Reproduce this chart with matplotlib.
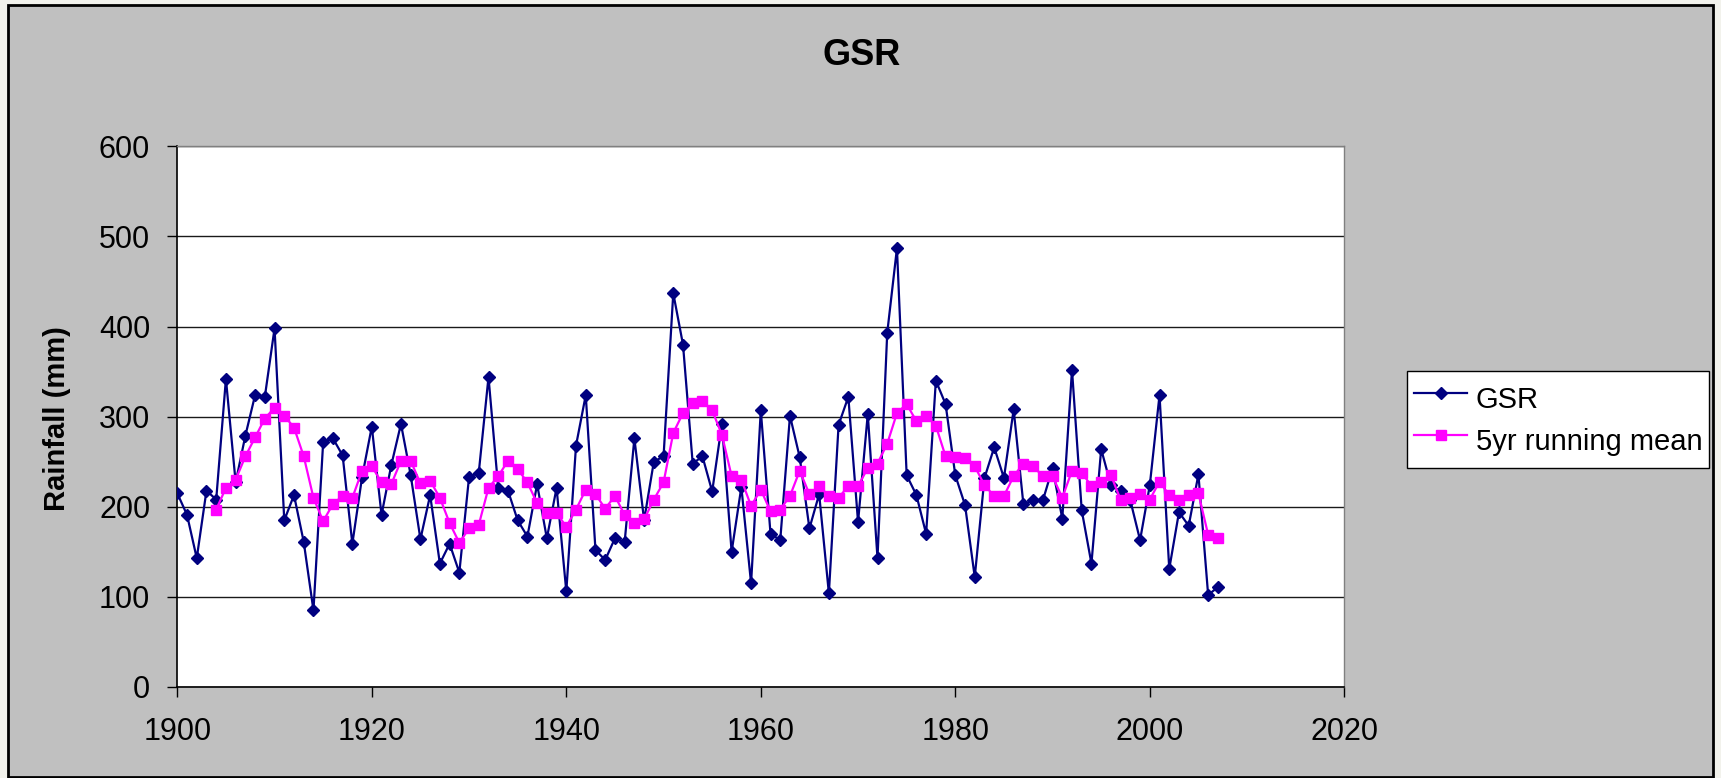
import matplotlib
matplotlib.use("Agg")
import matplotlib.pyplot as plt
from matplotlib.patches import Rectangle

plt.rcParams['font.family'] = ['Liberation Sans', 'DejaVu Sans']

gsr_years = list(range(1900, 2008))
gsr = [215, 191, 143, 218, 208, 342, 227, 279, 324, 322,
       398, 185, 213, 161, 85, 272, 276, 257, 159, 233,
       289, 191, 246, 292, 235, 164, 213, 137, 159, 127,
       233, 238, 344, 221, 218, 185, 167, 225, 165, 221,
       106, 268, 324, 152, 141, 165, 161, 276, 185, 250,
       256, 437, 380, 248, 256, 217, 292, 150, 222, 115,
       307, 170, 163, 301, 255, 176, 214, 104, 291, 322,
       183, 303, 143, 393, 487, 235, 213, 170, 340, 314,
       235, 202, 122, 232, 266, 232, 308, 203, 207, 207,
       243, 187, 352, 196, 137, 264, 224, 217, 207, 163,
       224, 324, 131, 194, 179, 236, 102, 111]

mean_years = list(range(1904, 2008))
mean5 = [197, 221, 230, 256, 277, 298,
         310, 301, 288, 256, 210, 184, 203, 212, 210, 240,
         245, 227, 225, 251, 251, 226, 229, 210, 182, 160,
         176, 180, 221, 234, 251, 242, 227, 204, 193, 193,
         178, 197, 219, 214, 198, 212, 191, 182, 186, 208,
         227, 282, 304, 315, 317, 307, 280, 234, 230, 201,
         219, 195, 197, 212, 240, 214, 223, 212, 210, 223,
         223, 243, 248, 270, 304, 314, 295, 301, 290, 256,
         255, 254, 245, 224, 212, 212, 234, 248, 245, 234,
         234, 210, 240, 238, 223, 227, 235, 208, 210, 214,
         208, 228, 213, 208, 213, 215, 169, 165]

x_ticks = [1900, 1920, 1940, 1960, 1980, 2000, 2020]
y_ticks = [0, 100, 200, 300, 400, 500, 600]

W, H = 1721, 778
fig = plt.figure(figsize=(W / 100, H / 100), dpi=100)
fig.patch.set_facecolor('#F2F2EC')
bg = Rectangle((8 / W, 1 / H), (1713 - 8) / W, 772 / H,
               transform=fig.transFigure, facecolor='#C0C0C0',
               edgecolor='black', linewidth=2, zorder=-10)
fig.patches.append(bg)

left, right, top, bottom = 177.3, 1344.3, 146.4, 687.0
ax = fig.add_axes([left / W, 1 - bottom / H, (right - left) / W, (bottom - top) / H])
ax.set_zorder(5)
ax.set_facecolor('white')

ax.plot(gsr_years, gsr, color='#000080', linewidth=1.6, marker='D',
        markersize=6.3, markerfacecolor='#000080', markeredgecolor='#000080',
        label='GSR', zorder=3)
ax.plot(mean_years, mean5, color='#FF00FF', linewidth=1.6, marker='s',
        markersize=7.6, markerfacecolor='#FF00FF', markeredgecolor='#FF00FF',
        label='5yr running mean', zorder=4)

ax.set_xlim(1900, 2020)
ax.set_ylim(0, 600)
ax.set_xticks(x_ticks)
ax.set_yticks(y_ticks)
ax.yaxis.grid(True, color='#1a1a1a', linewidth=1.0)
ax.set_axisbelow(True)
ax.tick_params(axis='both', direction='out', length=7.5, width=1, color='black',
               labelsize=22)
ax.tick_params(axis='y', pad=12)
ax.tick_params(axis='x', pad=14)
for s in ['left', 'bottom']:
    ax.spines[s].set_color('black')
    ax.spines[s].set_linewidth(1.2)
for s in ['top', 'right']:
    ax.spines[s].set_color('#808080')
    ax.spines[s].set_linewidth(1.0)

fig.text(861.7 / W, 1 - 55.7 / H, 'GSR', ha='center', va='center',
         fontsize=26, fontweight='bold', zorder=6)
fig.text(57 / W, 1 - 419 / H, 'Rainfall (mm)', ha='center', va='center',
         rotation=90, fontsize=21, fontweight='bold', zorder=6)

leg = fig.legend(loc='upper left', bbox_to_anchor=(1407 / W, 1 - 371 / H),
                 bbox_transform=fig.transFigure, borderaxespad=0,
                 fontsize=21, frameon=True, fancybox=False, shadow=False,
                 handlelength=1.8, handletextpad=0.3, borderpad=0.25,
                 handleheight=1.75, labelspacing=0.05, markerscale=0.95)
leg.set_zorder(6)
leg.get_frame().set_edgecolor('black')
leg.get_frame().set_linewidth(1.0)
leg.get_frame().set_facecolor('white')
leg.get_frame().set_alpha(1)

fig.savefig('out.png', dpi=100, facecolor=fig.get_facecolor())
